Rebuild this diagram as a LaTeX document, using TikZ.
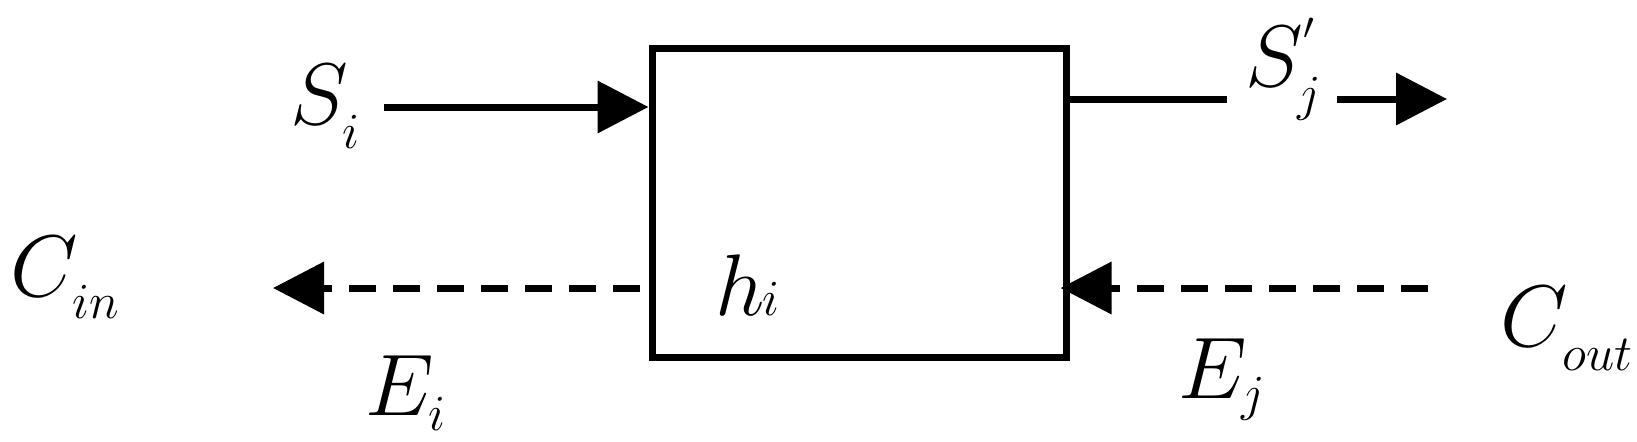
\documentclass[tikz,border=0pt]{standalone}
\usetikzlibrary{arrows.meta}
\newcommand{\lbl}[3]{$#1$\kern-0.06cm\raisebox{-#3}{\fontsize{15}{16}\selectfont$#2$}}

\begin{document}
\begin{tikzpicture}[
    blk/.style={draw, line width=0.07cm, minimum width=4.14cm, minimum height=3.09cm, inner sep=0pt},
    flow/.style={line width=0.07cm, -{Triangle[length=0.51cm, width=0.51cm]}},
    back/.style={flow, dash pattern=on 0.27cm off 0.17cm},
    lab/.style={anchor=base west, inner sep=0pt, font=\fontsize{26}{28}\selectfont}
]
\useasboundingbox (0,0) rectangle (16.37,-4.41);
\node[blk] (box) at (8.59,-2.025) {};

% forward stream
\coordinate (si) at (3.84,-1.07);
\draw[flow] (si) -- (si -| box.west);
\coordinate (so) at (12.27,-0.99);
\draw[line width=0.07cm] (so -| box.east) -- (so);
\coordinate (sa) at (13.37,-0.99);
\coordinate (sb) at (14.47,-0.99);
\draw[flow] (sa) -- (sb);

% backward stream
\coordinate (ci) at (2.73,-2.88);
\draw[back, shorten <=0.09cm] (ci -| box.west) -- (ci);
\coordinate (co) at (14.28,-2.88);
\draw[back, shorten >=-0.09cm] (co) -- (co -| box.east);

\node[lab] (Si) at (2.90,-1.24) {\lbl{S}{i}{0.24cm}};
\node[lab] (Sj) at (12.45,-0.86) {$S$\rlap{\raisebox{0.28cm}{\fontsize{15}{16}\selectfont$'$}}\kern-0.06cm\raisebox{-0.24cm}{\fontsize{15}{16}\selectfont$j$}};
\node[lab] (Cin) at (0.10,-2.96) {\lbl{C}{in}{0.22cm}};
\node[lab] (Ei) at (3.65,-4.15) {\lbl{E}{i}{0.15cm}};
\node[lab, font=\fontsize{24.5}{26}\selectfont] (hi) at (7.15,-3.15) {$h$\kern-0.03cm\fontsize{14}{15}\selectfont$i$};
\node[lab] (Ej) at (11.78,-3.98) {\lbl{E}{j}{0.12cm}};
\node[lab] (Cout) at (15.00,-3.46) {\lbl{C}{out}{0.24cm}};
\end{tikzpicture}
\end{document}
